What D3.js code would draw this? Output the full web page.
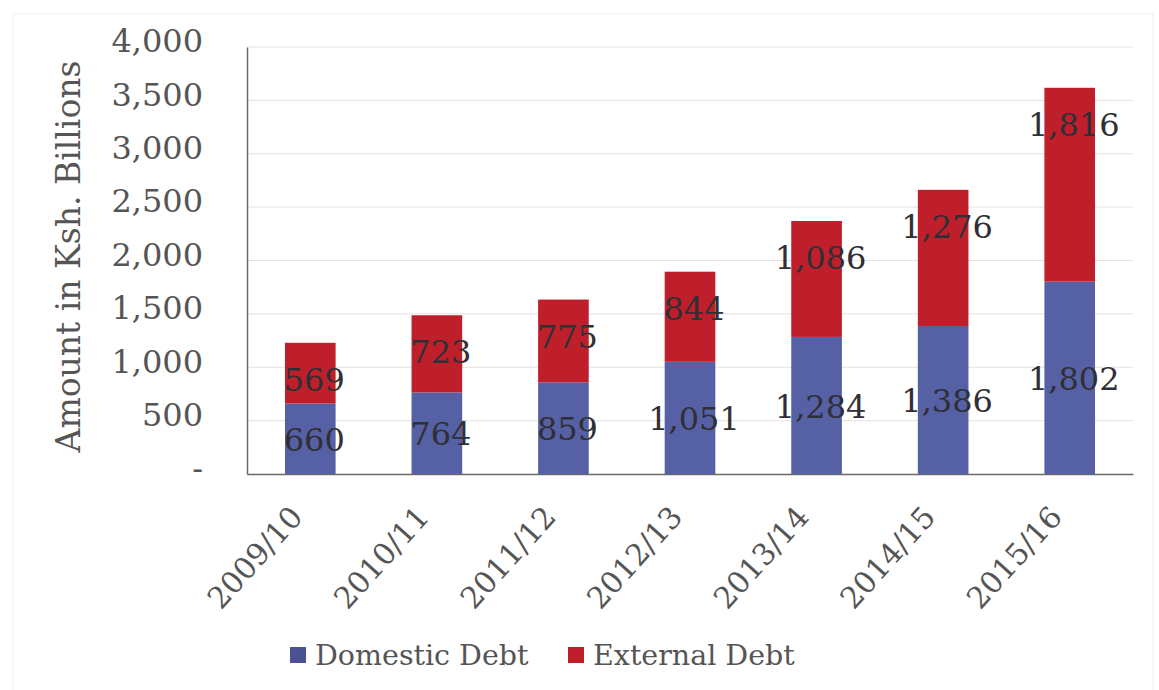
<!DOCTYPE html>
<meta charset="utf-8">
<style>
body { margin: 0; background: #fff; }
text { font-family: "DejaVu Serif", serif; }
.axis path, .axis line { stroke: #6a6a6a; }
.tick text { fill: #555; }
</style>
<svg width="1159" height="690"></svg>
<script src="https://d3js.org/d3.v7.min.js"></script>
<script>

// values, Ksh. billions
var years = ["2009/10", "2010/11", "2011/12", "2012/13", "2013/14", "2014/15", "2015/16"];
var domestic = [660, 764, 859, 1051, 1284, 1386, 1802];
var external = [569, 723, 775, 844, 1086, 1276, 1816];
var yTicks = [0, 500, 1000, 1500, 2000, 2500, 3000, 3500, 4000];
var seriesNames = ["Domestic Debt", "External Debt"];

var blue = "#5660a4",
    red = "#bf1f2b";

var svg = d3.select("svg"),
    margin = {top: 47, right: 26, bottom: 216, left: 247},
    width = +svg.attr("width") - margin.left - margin.right,
    height = +svg.attr("height") - margin.top - margin.bottom;

// faint frame of the original figure
svg.append("rect")
    .attr("x", 13).attr("y", 14)
    .attr("width", 1140).attr("height", 690)
    .attr("fill", "none")
    .attr("stroke", "#f1eded");

var g = svg.append("g")
    .attr("transform", "translate(" + margin.left + "," + margin.top + ")");

var x = d3.scaleBand().domain(years).range([0, width]).paddingInner(0.6).paddingOuter(0.3);
var y = d3.scaleLinear().domain([0, 4000]).range([height, 0]);

var data = years.map(function(d, i) {
  return {year: d, domestic: domestic[i], external: external[i]};
});
var stack = d3.stack().keys(["domestic", "external"])(data);

// gridlines
g.append("g")
  .selectAll("line")
  .data(yTicks.slice(1))
  .enter().append("line")
    .attr("x1", 0).attr("x2", width)
    .attr("y1", function(d) { return y(d); })
    .attr("y2", function(d) { return y(d); })
    .attr("stroke", "#eadfe0");

// y axis
var yAxis = g.append("g")
    .attr("class", "axis axis--y")
    .call(d3.axisLeft(y).tickValues(yTicks).tickSize(0).tickPadding(44)
      .tickFormat(function(d) { return d === 0 ? "-" : d3.format(",")(d); }));
yAxis.selectAll(".tick text").attr("font-size", 32).attr("dy", "0.15em");
yAxis.select(".domain").attr("stroke-width", 1.5);

// x axis
var xAxis = g.append("g")
    .attr("class", "axis axis--x")
    .attr("transform", "translate(0," + height + ")")
    .call(d3.axisBottom(x).tickSize(0).tickPadding(0));
xAxis.select(".domain").attr("stroke-width", 1.5);
xAxis.selectAll(".tick text")
    .attr("font-size", 30)
    .attr("text-anchor", "end")
    .attr("dy", 0)
    .attr("transform", "translate(-6,44) rotate(-48)");

// bars
var colors = [blue, red];
var layer = g.selectAll(".layer")
  .data(stack)
  .enter().append("g")
    .attr("class", "layer")
    .attr("fill", function(d, i) { return colors[i]; });

layer.selectAll("rect")
  .data(function(d) { return d; })
  .enter().append("rect")
    .attr("x", function(d) { return x(d.data.year); })
    .attr("y", function(d) { return y(d[1]); })
    .attr("width", x.bandwidth())
    .attr("height", function(d) { return y(d[0]) - y(d[1]); });

// data labels: domestic centred, external near the top end
var fmt = d3.format(",");
g.append("g").selectAll("text")
  .data(stack[0])
  .enter().append("text")
    .attr("x", function(d) { return x(d.data.year) + x.bandwidth() / 2 + 4; })
    .attr("y", function(d) { return (y(d[0]) + y(d[1])) / 2; })
    .attr("dy", "0.38em")
    .attr("text-anchor", "middle")
    .attr("font-size", 32)
    .attr("fill", "#2f2f35")
    .text(function(d) { return fmt(d.data.domestic); });

g.append("g").selectAll("text")
  .data(stack[1])
  .enter().append("text")
    .attr("x", function(d) { return x(d.data.year) + x.bandwidth() / 2 + 4; })
    .attr("y", function(d) { return y(d[1]) + 36; })
    .attr("dy", "0.38em")
    .attr("text-anchor", "middle")
    .attr("font-size", 32)
    .attr("fill", "#2f2f35")
    .text(function(d) { return fmt(d.data.external); });

// y axis title
svg.append("text")
    .attr("transform", "translate(80," + (margin.top + height / 2 - 4) + ") rotate(-90)")
    .attr("text-anchor", "middle")
    .attr("font-size", 33)
    .attr("fill", "#555")
    .text("Amount in Ksh. Billions");

// legend
var legend = svg.append("g").attr("transform", "translate(290,655)");
var item = legend.selectAll("g")
  .data(seriesNames)
  .enter().append("g")
    .attr("transform", function(d, i) { return "translate(" + (i * 278) + ",0)"; });
item.append("rect")
    .attr("x", 0).attr("y", -8)
    .attr("width", 16).attr("height", 16)
    .attr("fill", function(d, i) { return i === 0 ? "#4b5192" : red; });
item.append("text")
    .attr("x", 25)
    .attr("dy", "0.36em")
    .attr("font-size", 28.5)
    .attr("fill", "#555")
    .text(function(d) { return d; });

</script>
